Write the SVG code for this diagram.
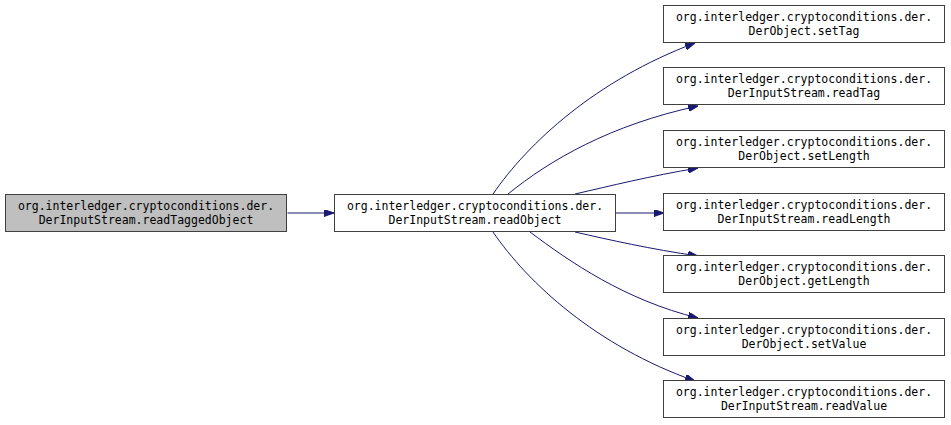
<svg xmlns="http://www.w3.org/2000/svg" width="951" height="425" viewBox="0 0 951 425">
<style>
.n rect{fill:#ffffff;stroke:#404040;stroke-width:1}
.n.h rect{fill:#bfbfbf}
.n text{font-family:"DejaVu Sans Mono","Liberation Mono",monospace;font-size:11.5px;fill:#000000;text-anchor:middle}
.e path{fill:none;stroke:#191970;stroke-width:1}
</style>
<defs>
<marker id="ah" viewBox="0 0 10 7" refX="10" refY="3.5" markerWidth="10" markerHeight="7" markerUnits="userSpaceOnUse" orient="auto">
<path d="M0,0 L10,3.5 L0,7 z" fill="#191970" stroke="#191970" stroke-width="1"/>
</marker>
</defs>
<rect width="951" height="425" fill="#ffffff"/>
<g id="connectors" class="e">
<path d="M287.5,213 L334,213" marker-end="url(#ah)"/>
<path d="M493,194 C528,143 596,80 695,43" marker-end="url(#ah)"/>
<path d="M508,194 C550,160 610,125 698,106" marker-end="url(#ah)"/>
<path d="M575,194 C610,186 650,176 698,168" marker-end="url(#ah)"/>
<path d="M616,213 L664,213" marker-end="url(#ah)"/>
<path d="M575,232 C610,240 650,249 698,256" marker-end="url(#ah)"/>
<path d="M530,232 C570,262 625,300 698,318" marker-end="url(#ah)"/>
<path d="M493,232 C528,283 596,346 695,381" marker-end="url(#ah)"/>
</g>
<g id="node_readTaggedObject" class="n h">
<rect x="5.5" y="194.5" width="281" height="37"/>
<text x="146" y="210">org.interledger.cryptoconditions.der.</text>
<text x="146" y="224">DerInputStream.readTaggedObject</text>
</g>
<g id="node_readObject" class="n">
<rect x="334.5" y="194.5" width="281" height="37"/>
<text x="475" y="210">org.interledger.cryptoconditions.der.</text>
<text x="475" y="224">DerInputStream.readObject</text>
</g>
<g id="node_setTag" class="n">
<rect x="663.5" y="5.5" width="281" height="37"/>
<text x="804" y="21">org.interledger.cryptoconditions.der.</text>
<text x="804" y="35">DerObject.setTag</text>
</g>
<g id="node_readTag" class="n">
<rect x="663.5" y="67.5" width="281" height="37"/>
<text x="804" y="83">org.interledger.cryptoconditions.der.</text>
<text x="804" y="97">DerInputStream.readTag</text>
</g>
<g id="node_setLength" class="n">
<rect x="663.5" y="130.5" width="281" height="37"/>
<text x="804" y="146">org.interledger.cryptoconditions.der.</text>
<text x="804" y="160">DerObject.setLength</text>
</g>
<g id="node_readLength" class="n">
<rect x="663.5" y="193.5" width="281" height="37"/>
<text x="804" y="209">org.interledger.cryptoconditions.der.</text>
<text x="804" y="223">DerInputStream.readLength</text>
</g>
<g id="node_getLength" class="n">
<rect x="663.5" y="255.5" width="281" height="37"/>
<text x="804" y="271">org.interledger.cryptoconditions.der.</text>
<text x="804" y="285">DerObject.getLength</text>
</g>
<g id="node_setValue" class="n">
<rect x="663.5" y="318.5" width="281" height="37"/>
<text x="804" y="334">org.interledger.cryptoconditions.der.</text>
<text x="804" y="348">DerObject.setValue</text>
</g>
<g id="node_readValue" class="n">
<rect x="663.5" y="380.5" width="281" height="37"/>
<text x="804" y="396">org.interledger.cryptoconditions.der.</text>
<text x="804" y="410">DerInputStream.readValue</text>
</g>
</svg>
